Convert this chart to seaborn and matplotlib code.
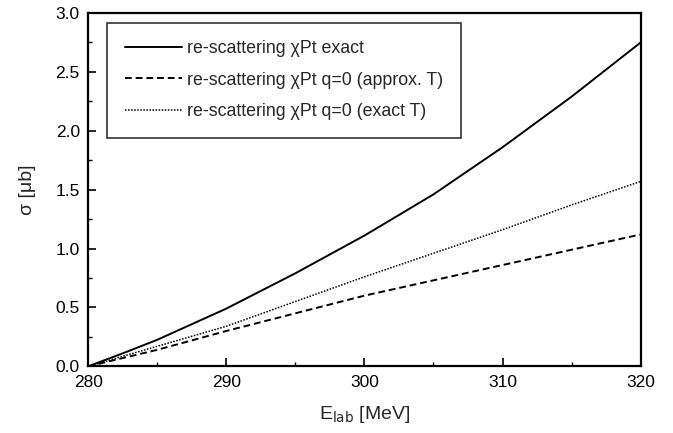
import numpy as np
import pandas as pd
import matplotlib
matplotlib.use("Agg")
import matplotlib.pyplot as plt
import seaborn as sns
from matplotlib.ticker import MultipleLocator

# values
e_lab = [280, 282.5, 285, 290, 295, 300, 305, 310, 315, 320]
sigma_exact = [0.0, 0.11, 0.225, 0.49, 0.79, 1.11, 1.46, 1.86, 2.29, 2.75]
sigma_approx_t = [0.0, 0.07, 0.14, 0.30, 0.45, 0.60, 0.73, 0.86, 0.99, 1.12]
sigma_exact_t = [0.0, 0.085, 0.17, 0.34, 0.55, 0.76, 0.96, 1.16, 1.37, 1.57]

labels = [
    "re-scattering χPt exact",
    "re-scattering χPt q=0 (approx. T)",
    "re-scattering χPt q=0 (exact T)",
]

sns.set_style("ticks")
plt.rcParams["font.family"] = ["Liberation Sans", "DejaVu Sans"]

fig = plt.figure(figsize=(6.73, 4.33), dpi=100)
ax = fig.add_axes([0.131, 0.154, 0.821, 0.816])

sns.lineplot(x=e_lab, y=sigma_exact, ax=ax, color="black", lw=1.4,
             linestyle="-", label=labels[0])
sns.lineplot(x=e_lab, y=sigma_approx_t, ax=ax, color="black", lw=1.4,
             linestyle=(0, (3.5, 2)), label=labels[1])
sns.lineplot(x=e_lab, y=sigma_exact_t, ax=ax, color="black", lw=1.1,
             linestyle=(0, (1, 1)), label=labels[2])

ax.set_xlim(280, 320)
ax.set_ylim(0, 3.0)
ax.xaxis.set_major_locator(MultipleLocator(10))
ax.xaxis.set_minor_locator(MultipleLocator(5))
ax.yaxis.set_major_locator(MultipleLocator(0.5))
ax.yaxis.set_minor_locator(MultipleLocator(0.25))
ax.yaxis.set_major_formatter(matplotlib.ticker.FormatStrFormatter("%.1f"))
ax.tick_params(which="both", direction="in", top=False, right=False,
               labelsize=12.5, colors="black")
ax.tick_params(which="major", length=6, width=1.2, pad=6)
ax.tick_params(which="minor", length=3, width=1.0)
for s in ax.spines.values():
    s.set_linewidth(1.6)
    s.set_color("black")
    s.set_visible(True)

ax.set_xlabel("E$_{\\mathrm{lab}}$ [MeV]", fontsize=14, labelpad=10)
ax.set_ylabel("σ [μb]", fontsize=14, labelpad=14)

leg = ax.legend(loc="upper left", bbox_to_anchor=(0.034, 0.973), fontsize=12.8,
                frameon=True, fancybox=False, edgecolor="black",
                handlelength=3.2, handletextpad=0.3, labelspacing=0.8,
                borderpad=1.0, borderaxespad=0)
leg.get_frame().set_linewidth(1.2)

fig.savefig("out.png", dpi=100)
